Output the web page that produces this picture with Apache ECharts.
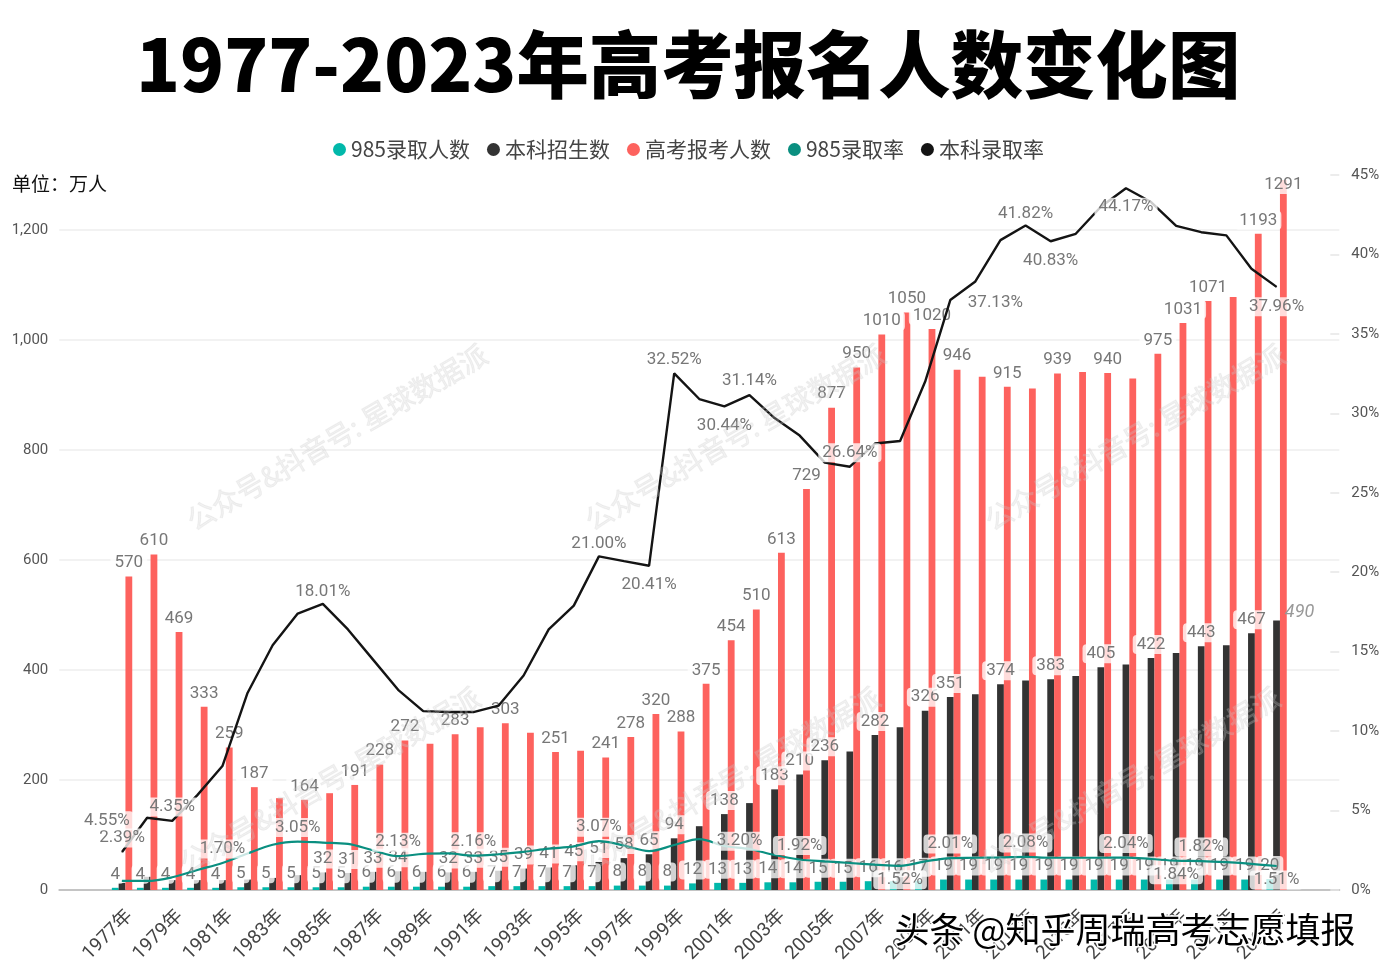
<!DOCTYPE html>
<html><head><meta charset="utf-8">
<style>html,body{margin:0;padding:0;background:#fff}#c{width:1387px;height:977px}</style>
<script src="https://cdn.jsdelivr.net/npm/echarts@6/dist/echarts.min.js"></script>
</head><body><div id="c"></div>
<script>
const years=['1977年','1978年','1979年','1980年','1981年','1982年','1983年','1984年','1985年','1986年','1987年','1988年','1989年','1990年','1991年','1992年','1993年','1994年','1995年','1996年','1997年','1998年','1999年','2000年','2001年','2002年','2003年','2004年','2005年','2006年','2007年','2008年','2009年','2010年','2011年','2012年','2013年','2014年','2015年','2016年','2017年','2018年','2019年','2020年','2021年','2022年','2023年'];
const admit985=[4,4,4,4,4,5,5,5,5,5,6,6,6,6,6,7,7,7,7,7,8,8,8,12,13,13,14,14,15,15,16,16,17,19,19,19,19,19,19,19,19,19,19,19,19,19,20];
const undergrad=[13,24,18,18,18,19,22,27,32,31,33,34,33,32,33,35,39,41,45,51,58,65,94,116,138,158,183,210,236,252,282,296,326,351,356,374,381,383,389,405,410,422,431,443,445,467,490];
const applicants=[570,610,469,333,259,187,167,164,176,191,228,272,266,283,296,303,286,251,253,241,278,320,288,375,454,510,613,729,877,950,1010,1050,1020,946,933,915,912,939,942,940,930,975,1031,1071,1078,1193,1291];
const rate985=[0.57,0.57,0.8,1.26,1.70,2.3,2.85,3.05,2.98,2.9,2.5,2.13,2.27,2.3,2.16,2.25,2.4,2.6,2.75,3.07,2.8,2.45,2.83,3.20,2.77,2.58,2.2,1.92,1.8,1.7,1.6,1.52,1.8,2.01,2.03,2.05,2.08,2.03,2.03,2.03,2.04,1.95,1.84,1.82,1.75,1.65,1.51];
const rateUndergrad=[2.39,4.55,4.35,5.97,7.8,12.4,15.4,17.4,18.01,16.4,14.5,12.6,11.26,11.2,11.2,11.6,13.5,16.4,17.9,21.00,20.7,20.41,32.52,30.9,30.44,31.14,29.7,28.6,26.9,26.64,28.1,28.26,32,37.13,38.3,40.9,41.82,40.83,41.3,43,44.17,43.3,41.8,41.4,41.2,39.1,37.96];
const hiddenApplicantLabels=['1983年','1985年','1989年','1991年','1993年','1995年','2011年','2013年','2015年','2017年','2021年'];
const shownUndergradLabels=['1985年','1986年','1987年','1988年','1990年','1991年','1992年','1993年','1994年','1995年','1996年','1997年','1998年','1999年','2001年','2003年','2004年','2005年','2007年','2009年','2010年','2012年','2014年','2016年','2018年','2020年','2022年','2023年'];
// [position, dx, dy]
const undergradRateLabels={'1977年':['top',0,0],'1978年':['left',-9,3],'1979年':['top',0,0],'1985年':['top',0,2],'1996年':['top',0,1],'1998年':['bottom',0,5],'1999年':['top',0,0],'2001年':['bottom',0,5],'2002年':['top',0,0],'2006年':['top',0,0],'2010年':['right',9,3],'2013年':['top',0,2],'2014年':['bottom',0,5],'2017年':['bottom',0,5],'2023年':['bottom',0,6]};
const rate985Labels={'1981年':['top',0,0],'1984年':['top',0,0],'1988年':['top',0,0],'1991年':['top',0,0],'1996年':['top',0,0],'2000年':['right',9,2],'2004年':['top',0,0],'2008年':['bottom',0,0],'2010年':['top',0,0],'2013年':['top',0,0],'2017年':['top',0,0],'2019年':['bottom',0,0],'2020年':['top',0,0],'2023年':['bottom',0,0]};
const barLabelOverrides={undergrad:{'2023年':{fontStyle:'italic',fontSize:18,offset:[23,6],color:'#999',backgroundColor:'transparent'}},applicants:{'2023年':{offset:[0,18]}}};
const watermarkAnchors=[[337,437],[735,437],[1135,437],[330,780],[730,780],[1130,780]];

const FONT='Roboto, "Noto Sans CJK SC", sans-serif';
const CJK='"Noto Sans CJK SC", sans-serif';
const baseLabel={fontFamily:FONT,fontSize:17,color:'#777',backgroundColor:'rgba(255,255,255,0.78)',borderRadius:4,padding:[1,4],distance:4};
const pad=a=>[null,null,...a,null,null];
const barData=(vals,shown,over)=>pad(vals.map((v,i)=>({value:v,label:{show:shown(years[i]),...((over&&over[years[i]])||{})}})));
const lineData=(vals,map)=>pad(vals.map((v,i)=>{
  const m=map[years[i]];
  return {value:v,label:m?{show:true,position:m[0],offset:[m[1],m[2]]}:{show:false}};
}));
const bar=(name,vals,color,shown,over)=>({name,type:'bar',yAxisIndex:0,barWidth:6.8,barGap:0,itemStyle:{color},z:2,data:barData(vals,shown,over),label:{...baseLabel,position:'top'}});
const line=(name,vals,color,map,width,smooth,z)=>({name,type:'line',yAxisIndex:1,smooth,z,symbol:'circle',symbolSize:1,showSymbol:true,lineStyle:{color,width},itemStyle:{color},data:lineData(vals,map),label:{...baseLabel,padding:[1,4],formatter:p=>p.value.toFixed(2)+'%'}});

const chart=echarts.init(document.getElementById('c'),null,{renderer:'canvas'});
chart.setOption({
  animation:false,
  title:{text:'1977-2023年高考报名人数变化图',left:136,top:28,padding:0,textStyle:{fontFamily:CJK,fontSize:72.4,fontWeight:900,color:'#000'}},
  legend:{left:328,top:134,itemGap:17,itemWidth:13,itemHeight:13,icon:'circle',textStyle:{fontFamily:CJK,fontSize:21,color:'#444'},
    data:['985录取人数','本科招生数','高考报考人数','985录取率','本科录取率']},
  grid:{left:59.3,width:1280,top:175,height:715,containLabel:false},
  xAxis:{type:'category',data:['','',...years,'',''],boundaryGap:true,
    axisTick:{show:false},axisLine:{lineStyle:{color:'#c4c4c4',width:2}},
    axisLabel:{interval:(i,v)=>v!==''&&(i-2)%2===0,rotate:45,fontFamily:FONT,fontSize:19,color:'#444',margin:31,padding:[0,-11,0,0]}},
  yAxis:[
    {type:'value',min:0,max:1300,interval:200,position:'left',axisLine:{show:false},axisTick:{show:false},
     splitLine:{lineStyle:{color:'#eee',width:1.5},showMaxLine:false},
     axisLabel:{showMaxLabel:false,fontFamily:FONT,fontSize:15,color:'#555',margin:11,formatter:v=>v.toLocaleString('en-US')}},
    {type:'value',min:0,max:45,interval:5,position:'right',axisLine:{show:false},splitLine:{show:false},
     axisTick:{show:true,inside:true,length:9,lineStyle:{color:'#e6e6e6',width:1.5}},
     axisLabel:{fontFamily:FONT,fontSize:15,color:'#555',margin:12,formatter:'{value}%'}}
  ],
  series:[
    bar('985录取人数',admit985,'#01B8AA',()=>true),
    bar('本科招生数',undergrad,'#333333',y=>shownUndergradLabels.includes(y),barLabelOverrides.undergrad),
    bar('高考报考人数',applicants,'#FD625E',y=>!hiddenApplicantLabels.includes(y),barLabelOverrides.applicants),
    line('985录取率',rate985,'#0a8f80',rate985Labels,2.2,0.35,4),
    line('本科录取率',rateUndergrad,'#141414',undergradRateLabels,2.4,false,5)
  ],
  graphic:[
    {type:'text',left:12,top:174,z:50,style:{text:'单位：万人',font:'19px '+CJK,fill:'#111'}},
    ...watermarkAnchors.map(a=>({type:'text',x:a[0],y:a[1],rotation:Math.PI/6,z:60,silent:true,
      style:{text:'公众号&抖音号: 星球数据派',font:'28px '+CJK,fill:'rgba(205,205,205,0.26)',stroke:'rgba(190,190,190,0.2)',lineWidth:1,align:'center',verticalAlign:'middle'}})),
    {type:'text',left:893,top:911,z:70,style:{text:'头条 @知乎周瑞高考志愿填报',font:'35px '+CJK,fill:'#000',stroke:'#fff',lineWidth:3}}
  ]
});
</script></body></html>
